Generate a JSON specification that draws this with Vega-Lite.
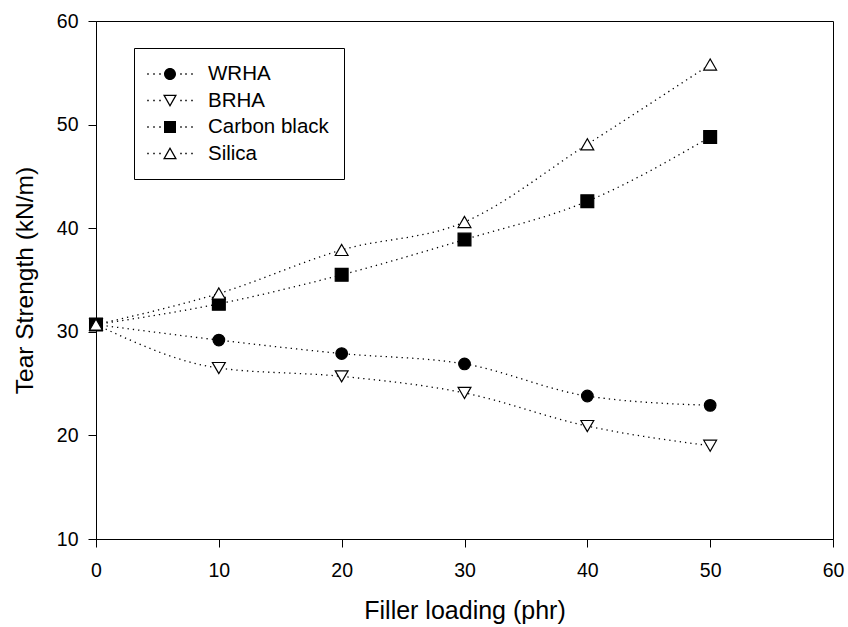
{
  "$schema": "https://vega.github.io/schema/vega-lite/v6.json",
  "width": 737,
  "height": 518,
  "autosize": {"type": "none"},
  "padding": {"left": 96, "top": 21, "right": 15, "bottom": 88},
  "background": "white",
  "config": {
    "view": {"stroke": "black", "strokeWidth": 1},
    "font": "Liberation Sans",
    "axis": {
      "domainColor": "black", "tickColor": "black", "labelColor": "black", "titleColor": "black",
      "labelFont": "Liberation Sans", "titleFont": "Liberation Sans",
      "labelFontSize": 19.5, "titleFontSize": 25, "titleFontWeight": "normal",
      "tickSize": 8, "grid": false, "domainWidth": 1, "tickWidth": 1, "labelFlush": false
    }
  },
  "data": {
    "values": [
      {"loading": 0, "strength": 30.7, "filler": "WRHA"},
      {"loading": 10, "strength": 29.2, "filler": "WRHA"},
      {"loading": 20, "strength": 27.9, "filler": "WRHA"},
      {"loading": 30, "strength": 26.9, "filler": "WRHA"},
      {"loading": 40, "strength": 23.8, "filler": "WRHA"},
      {"loading": 50, "strength": 22.9, "filler": "WRHA"},
      {"loading": 0, "strength": 30.7, "filler": "BRHA"},
      {"loading": 10, "strength": 26.5, "filler": "BRHA"},
      {"loading": 20, "strength": 25.7, "filler": "BRHA"},
      {"loading": 30, "strength": 24.1, "filler": "BRHA"},
      {"loading": 40, "strength": 20.9, "filler": "BRHA"},
      {"loading": 50, "strength": 19.0, "filler": "BRHA"},
      {"loading": 0, "strength": 30.7, "filler": "Carbon black"},
      {"loading": 10, "strength": 32.7, "filler": "Carbon black"},
      {"loading": 20, "strength": 35.5, "filler": "Carbon black"},
      {"loading": 30, "strength": 38.9, "filler": "Carbon black"},
      {"loading": 40, "strength": 42.6, "filler": "Carbon black"},
      {"loading": 50, "strength": 48.8, "filler": "Carbon black"},
      {"loading": 0, "strength": 30.7, "filler": "Silica"},
      {"loading": 10, "strength": 33.7, "filler": "Silica"},
      {"loading": 20, "strength": 37.9, "filler": "Silica"},
      {"loading": 30, "strength": 40.6, "filler": "Silica"},
      {"loading": 40, "strength": 48.1, "filler": "Silica"},
      {"loading": 50, "strength": 55.8, "filler": "Silica"}
    ]
  },
  "encoding": {
    "x": {
      "field": "loading", "type": "quantitative",
      "scale": {"domain": [0, 60], "nice": false},
      "axis": {"values": [0, 10, 20, 30, 40, 50, 60], "title": "Filler loading (phr)", "labelPadding": 14, "titlePadding": 19}
    },
    "y": {
      "field": "strength", "type": "quantitative",
      "scale": {"domain": [10, 60], "nice": false, "zero": false},
      "axis": {"values": [10, 20, 30, 40, 50, 60], "title": "Tear Strength (kN/m)", "labelPadding": 10, "titlePadding": 19, "titleFontSize": 24.5}
    }
  },
  "layer": [
    {
      "mark": {"type": "line", "interpolate": "monotone", "strokeDash": [1.3, 4], "color": "black", "strokeWidth": 1.3},
      "encoding": {"detail": {"field": "filler"}}
    },
    {
      "mark": {"type": "point", "opacity": 1, "stroke": "black", "strokeWidth": 1.2},
      "encoding": {
        "fill": {
          "condition": {"test": "datum.filler === 'WRHA' || datum.filler === 'Carbon black'", "value": "black"},
          "value": "white"
        },
        "size": {
          "condition": {"test": "datum.filler === 'WRHA'", "value": 135},
          "value": 165
        },
        "shape": {
          "condition": [
            {"test": "datum.filler === 'WRHA'", "value": "circle"},
            {"test": "datum.filler === 'BRHA'", "value": "triangle-down"},
            {"test": "datum.filler === 'Carbon black'", "value": "square"}
          ],
          "value": "triangle-up"
        }
      }
    },
    {
      "transform": [{"filter": "false"}],
      "mark": {"type": "point", "opacity": 1, "filled": true, "color": "black"},
      "encoding": {
        "shape": {
          "field": "filler", "type": "nominal",
          "scale": {
            "domain": ["WRHA", "BRHA", "Carbon black", "Silica"],
            "range": [
              "M-1.159,-0.068h0.136v0.136h-0.136ZM-0.613,-0.068h0.136v0.136h-0.136ZM-0.068,-0.068h0.136v0.136h-0.136ZM1.841,-0.068h0.136v0.136h-0.136ZM2.296,-0.068h0.136v0.136h-0.136ZM2.841,-0.068h0.136v0.136h-0.136ZM1.455,0A0.545,0.545 0 1 1 0.364,0A0.545,0.545 0 1 1 1.455,0Z",
              "M-1.159,-0.068h0.136v0.136h-0.136ZM-0.613,-0.068h0.136v0.136h-0.136ZM-0.068,-0.068h0.136v0.136h-0.136ZM1.841,-0.068h0.136v0.136h-0.136ZM2.296,-0.068h0.136v0.136h-0.136ZM2.841,-0.068h0.136v0.136h-0.136ZM0.273,-0.518L1.545,-0.518L0.909,0.6ZM0.475,-0.4L0.909,0.358L1.343,-0.4Z",
              "M-1.159,-0.068h0.136v0.136h-0.136ZM-0.613,-0.068h0.136v0.136h-0.136ZM-0.068,-0.068h0.136v0.136h-0.136ZM1.841,-0.068h0.136v0.136h-0.136ZM2.296,-0.068h0.136v0.136h-0.136ZM2.841,-0.068h0.136v0.136h-0.136ZM0.364,-0.545h1.091v1.091h-1.091Z",
              "M-1.159,-0.068h0.136v0.136h-0.136ZM-0.613,-0.068h0.136v0.136h-0.136ZM-0.068,-0.068h0.136v0.136h-0.136ZM1.841,-0.068h0.136v0.136h-0.136ZM2.296,-0.068h0.136v0.136h-0.136ZM2.841,-0.068h0.136v0.136h-0.136ZM0.273,0.518L1.545,0.518L0.909,-0.6ZM0.475,0.4L0.909,-0.358L1.343,0.4Z"
            ]
          },
          "legend": {
            "orient": "none", "legendX": 38, "legendY": 27, "title": null,
            "strokeColor": "black", "padding": 15,
            "symbolSize": 484, "symbolStrokeWidth": 0, "symbolFillColor": "black",
            "labelFontSize": 20.5, "labelFont": "Liberation Sans", "labelColor": "black",
            "labelOffset": 37, "rowPadding": 4.5
          }
        }
      }
    }
  ]
}
